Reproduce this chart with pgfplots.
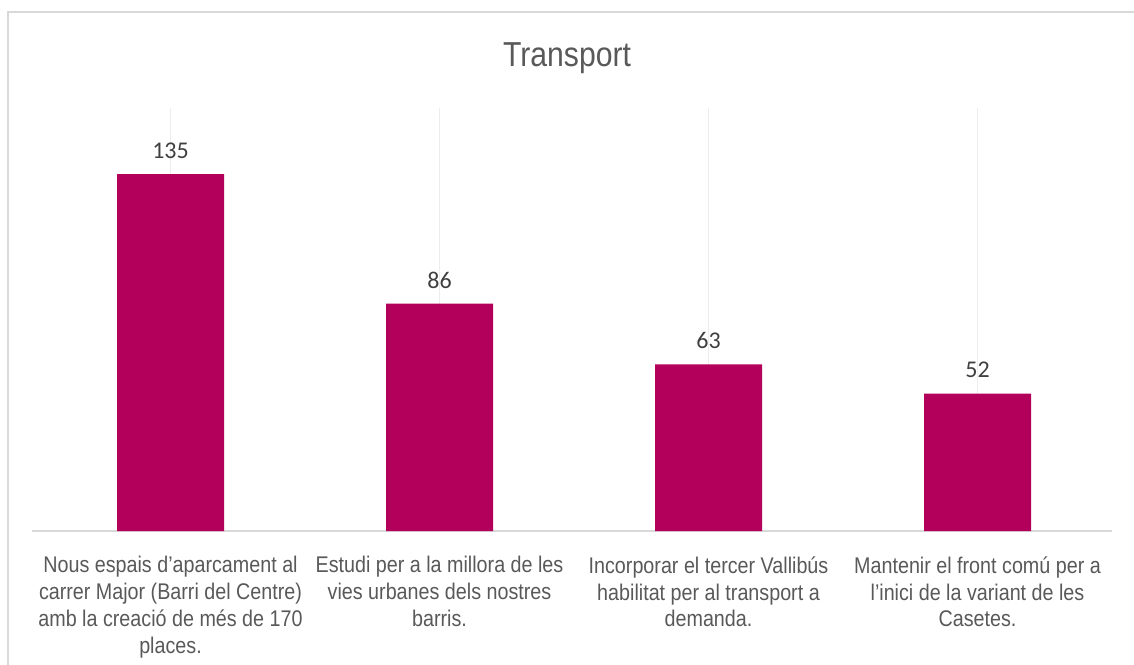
\documentclass[border=0pt]{standalone}
\usepackage{fontspec}
\usepackage{pgfplots}
\pgfplotsset{compat=1.18}
\setmainfont{Liberation Sans}
\newfontfamily\labelfont[FakeStretch=0.87]{Liberation Sans}
\newfontfamily\valfont{Carlito}
\definecolor{barc}{HTML}{B3005A}
\definecolor{txt}{HTML}{595959}
\definecolor{valc}{HTML}{404040}
\definecolor{axc}{HTML}{D9D9D9}
\definecolor{gridc}{HTML}{EDEDED}
\begin{document}
\begin{tikzpicture}[x=1pt,y=1pt]
\path[use as bounding box] (0,0) rectangle (850.5,498);
\draw[axc, line width=1.5pt] (6,-5) -- (6,489) -- (860,489);
\node[font=\labelfont\fontsize{26}{30}\selectfont, text=txt] at (425.25,454) {Transport};
\draw[axc, line width=1.2pt] (24,99.75) -- (27,99.75);
\begin{axis}[
  at={(27pt,99.75pt)}, anchor=south west,
  width=807pt, height=317.25pt, scale only axis,
  ybar, bar width=80.25pt,
  xmin=-0.5, xmax=3.5, ymin=0, ymax=160,
  xtick={0,1,2,3},
  xticklabels={{Nous espais d’aparcament al\\carrer Major (Barri del Centre)\\amb la creació de més de 170\\places.},
               {Estudi per a la millora de les\\vies urbanes dels nostres\\barris.},
               {Incorporar el tercer Vallibús\\habilitat per al transport a\\demanda.},
               {Mantenir el front comú per a\\l’inici de la variant de les\\Casetes.}},
  xticklabel style={align=center, font=\labelfont\fontsize{17}{20.2}\selectfont, text=txt, anchor=north, yshift=-15.5pt},
  major tick length=0pt,
  axis x line*=bottom, axis y line=none,
  x axis line style={draw=axc, line width=1.2pt},
  xmajorgrids, grid style={draw=gridc, line width=0.9pt},
  ytick=\empty,
  /pgf/number format/assume math mode=true,
  nodes near coords,
  every node near coord/.append style={font=\valfont\fontsize{18}{20}\selectfont, text=valc, yshift=8pt},
]
\addplot[fill=barc, draw=none] coordinates {(0,135) (1,86) (2,63) (3,52)};
\end{axis}
\end{tikzpicture}
\end{document}
